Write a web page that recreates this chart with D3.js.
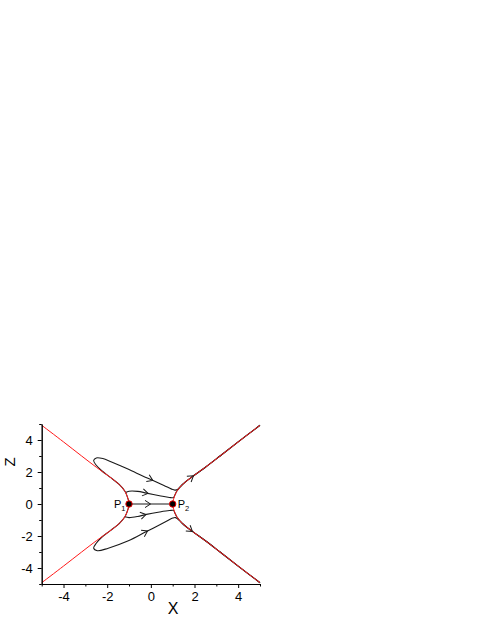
<!DOCTYPE html>
<html>
<head>
<meta charset="utf-8">
<script src="https://cdn.jsdelivr.net/npm/d3@7/dist/d3.min.js"></script>
<style>
  html, body { margin: 0; padding: 0; background: #fff; }
  svg { display: block; }
  text { font-family: Arial, "Liberation Sans", sans-serif; }
</style>
</head>
<body>
<svg id="chart" width="480" height="621"></svg>
<script>
// ---- data ----
const xDomain = [-5, 5];
const zDomain = [-5, 5];
const majorTicks = [-4, -2, 0, 2, 4];
const minorTicks = [-5, -3, -1, 1, 3, 5];

// red invariant curve (two branches)
const leftBranch = [[-5,4.92],[-4,3.88],[-3.17,3.0],[-2.5,2.3],[-1.87,1.68],[-1.45,1.22],[-1.18,0.78],[-1.04,0.3],[-1.0,0],
                    [-1.04,-0.3],[-1.18,-0.78],[-1.45,-1.22],[-1.87,-1.68],[-2.5,-2.3],[-3.17,-3.0],[-4,-3.88],[-5,-4.92]];
const rightBranch = [[5,4.92],[4,3.88],[3.17,3.0],[2.5,2.3],[1.87,1.68],[1.45,1.22],[1.18,0.78],[1.04,0.3],[1.0,0],
                    [1.04,-0.3],[1.18,-0.78],[1.45,-1.22],[1.87,-1.68],[2.5,-2.3],[3.17,-3.0],[4,-3.88],[5,-4.92]];

// trajectories
const traj1 = [[-1.01,0.12],[-1.04,0.3],[-1.18,0.78],[-1.45,1.22],[-1.87,1.68],[-2.25,2.08],[-2.5,2.42],[-2.62,2.72],[-2.5,2.88],
               [-2.2,2.84],[-1.8,2.62],[-1.05,2.18],[-0.35,1.74],[0.05,1.5],[0.6,1.16],[0.95,0.93],[1.1,0.87],[1.22,0.9],
               [1.45,1.22],[1.87,1.68],[2.5,2.3],[3.17,3.0],[4,3.88],[5,4.92]];
const traj2 = [[-1.16,0.72],[-1.0,0.8],[-0.6,0.79],[-0.2,0.68],[0.4,0.52],[0.85,0.41],[1.04,0.4],[1.1,0.56],[1.18,0.78],
               [1.45,1.22],[1.87,1.68],[2.5,2.3],[3.17,3.0],[4,3.88],[5,4.92]];
const traj3 = [[-1.0,0],[1.0,0]];
const traj4 = [[-1.19,-0.8],[-1.0,-0.85],[-0.6,-0.78],[-0.2,-0.65],[0.4,-0.5],[0.85,-0.41],[1.04,-0.4],[1.1,-0.56],[1.18,-0.78],
               [1.45,-1.22],[1.87,-1.68],[2.5,-2.3],[3.17,-3.0],[4,-3.88],[5,-4.92]];
const traj5 = [[-1.01,-0.12],[-1.04,-0.3],[-1.18,-0.78],[-1.45,-1.22],[-1.87,-1.68],[-2.25,-2.08],[-2.5,-2.45],[-2.62,-2.76],[-2.45,-2.92],
               [-1.95,-2.76],[-1.03,-2.3],[-0.2,-1.72],[0.65,-1.13],[1.0,-0.88],[1.13,-0.85],[1.3,-1.02],
               [1.45,-1.22],[1.87,-1.68],[2.5,-2.3],[3.17,-3.0],[4,-3.88],[5,-4.92]];
const trajectories = [traj1, traj2, traj3, traj4, traj5];

// arrowheads: which trajectory, and x where the arrow sits
const arrowTraj = [0, 1, 2, 3, 4, 0, 4];
const arrowX    = [0.08, -0.12, -0.02, -0.22, -0.15, 1.95, 1.9];

// fixed points
const fixedPoints = [[-1, 0, "P", "1"], [1, 0, "P", "2"]];

// ---- drawing ----
const svg = d3.select("#chart");
const x = d3.scaleLinear().domain(xDomain).range([41.7, 260]);
const z = d3.scaleLinear().domain(zDomain).range([584, 424]);

const line = d3.line().x(d => x(d[0])).y(d => z(d[1])).curve(d3.curveCatmullRom.alpha(0.5));

// trajectories (under red curve)
const tg = svg.append("g");
const trajPaths = tg.selectAll("path").data(trajectories).join("path")
  .attr("d", line)
  .attr("fill", "none")
  .attr("stroke", "#1a1a1a")
  .attr("stroke-width", 1.1);

// red curve
svg.append("g").selectAll("path").data([leftBranch, rightBranch]).join("path")
  .attr("d", line)
  .attr("fill", "none")
  .attr("stroke", "#ff1a1a")
  .attr("stroke-width", 1);

// arrowheads
const nodes = trajPaths.nodes();
const ag = svg.append("g");
arrowTraj.forEach((ti, i) => {
  const node = nodes[ti];
  const L = node.getTotalLength();
  const tx = x(arrowX[i]);
  let best = 0, bd = Infinity;
  for (let s = 0; s <= L; s += 0.5) {
    const p = node.getPointAtLength(s);
    const d = Math.abs(p.x - tx);
    if (d < bd) { bd = d; best = s; }
  }
  const p = node.getPointAtLength(best);
  const a = node.getPointAtLength(Math.max(0, best - 2));
  const b = node.getPointAtLength(Math.min(L, best + 2));
  const ang = Math.atan2(b.y - a.y, b.x - a.x) * 180 / Math.PI;
  ag.append("path")
    .attr("d", "M-5.5,-3.6L0,0L-5.5,3.6")
    .attr("transform", `translate(${p.x},${p.y}) rotate(${ang})`)
    .attr("fill", "none")
    .attr("stroke", "#1a1a1a")
    .attr("stroke-width", 1);
});

// fixed points
svg.append("g").selectAll("circle").data(fixedPoints).join("circle")
  .attr("cx", d => x(d[0])).attr("cy", d => z(d[1])).attr("r", 3.2)
  .attr("fill", "#000").attr("stroke", "#e00").attr("stroke-width", 1);

// P labels
const lab = svg.append("g");
fixedPoints.forEach((d, i) => {
  const t = lab.append("text")
    .attr("x", i === 0 ? x(d[0]) - 3.5 : x(d[0]) + 5)
    .attr("y", z(d[1]) + 3.5)
    .attr("text-anchor", i === 0 ? "end" : "start")
    .attr("font-size", 11)
    .attr("fill", "#000");
  t.append("tspan").text(d[2]);
  t.append("tspan").attr("font-size", 7.5).attr("dy", 3.5).text(d[3]);
});

// axes
const fmt = d => d < 0 ? "-" + Math.abs(d) : String(d);
const xMajor = svg.append("g").attr("transform", `translate(0,${z(-5)})`)
  .call(d3.axisBottom(x).tickValues(majorTicks).tickSize(4).tickPadding(4).tickSizeOuter(0).tickFormat(fmt));
const xMinor = svg.append("g").attr("transform", `translate(0,${z(-5)})`)
  .call(d3.axisBottom(x).tickValues(minorTicks).tickSize(2.5).tickSizeOuter(0).tickFormat(""));
const yMajor = svg.append("g").attr("transform", `translate(${x(-5)},0)`)
  .call(d3.axisLeft(z).tickValues(majorTicks).tickSize(4).tickPadding(5).tickSizeOuter(0).tickFormat(fmt));
const yMinor = svg.append("g").attr("transform", `translate(${x(-5)},0)`)
  .call(d3.axisLeft(z).tickValues(minorTicks).tickSize(2.5).tickSizeOuter(0).tickFormat(""));

[xMajor, xMinor, yMajor, yMinor].forEach(g => {
  g.selectAll("text").attr("font-size", 13).attr("font-family", "Arial, 'Liberation Sans', sans-serif").attr("fill", "#000");
  g.selectAll("line").attr("stroke", "#000");
  g.select(".domain").attr("stroke", "#000");
});

// axis titles
svg.append("text").attr("x", 173).attr("y", 613.5).attr("text-anchor", "middle")
  .attr("font-size", 16).attr("fill", "#000").text("X");
svg.append("text").attr("transform", "translate(15,462) rotate(-90)").attr("text-anchor", "middle")
  .attr("font-size", 15).attr("fill", "#000").text("Z");
</script>
</body>
</html>
